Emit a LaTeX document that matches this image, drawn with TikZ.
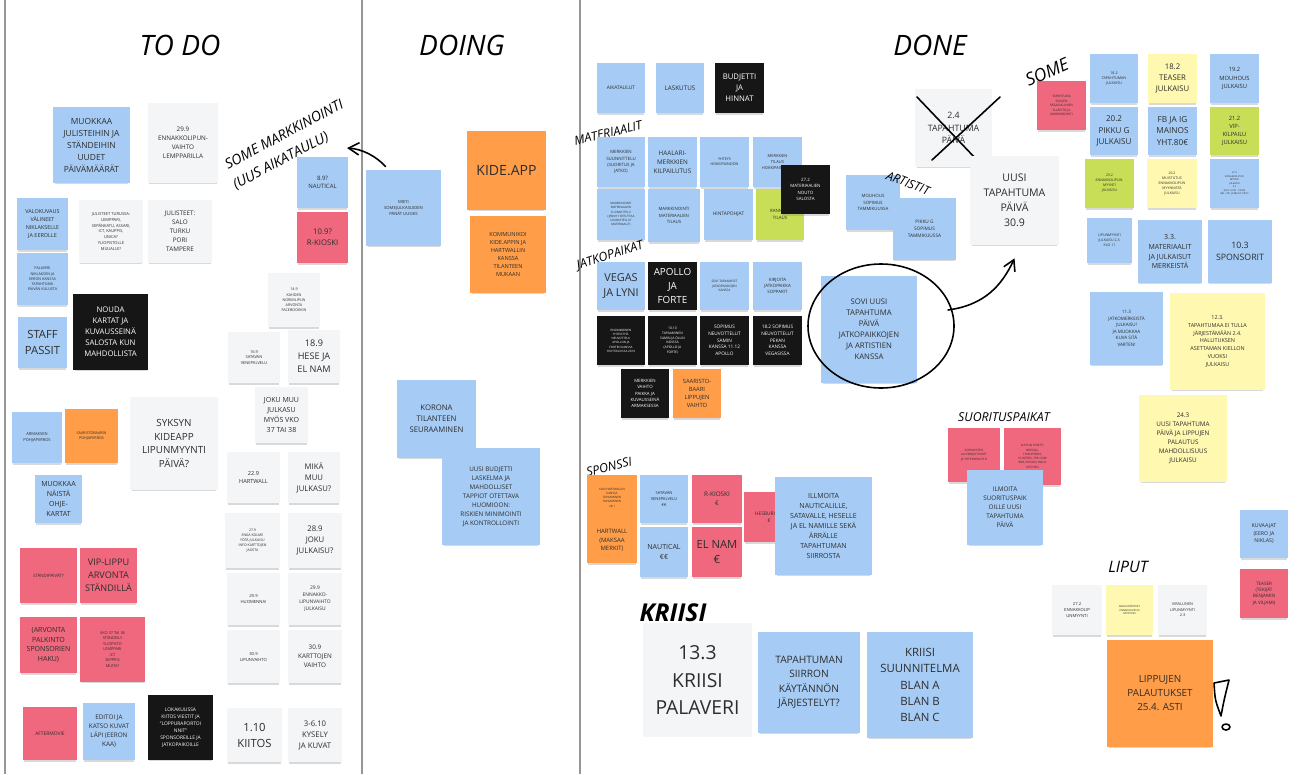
\documentclass[tikz,border=0pt]{standalone}
\usepackage{fontspec}
\setmainfont{Open Sans}
\usetikzlibrary{arrows.meta,shadows}
\definecolor{blu}{RGB}{166,204,245}
\definecolor{wht}{RGB}{244,245,247}
\definecolor{org}{RGB}{255,157,72}
\definecolor{pnk}{RGB}{240,104,126}
\definecolor{blk}{RGB}{22,22,22}
\definecolor{yel}{RGB}{255,248,176}
\definecolor{lim}{RGB}{200,222,86}
\definecolor{ink}{RGB}{45,45,45}
\definecolor{laneg}{RGB}{150,150,150}
\newcommand\fs[1]{\fontsize{#1}{\fpeval{1.42*#1}pt}\selectfont}
\tikzset{
  fs/.style={font=\fs{#1}},
  note/.style={fill=#1, text=ink, align=center, inner sep=0.5pt,
    drop shadow={shadow xshift=0pt, shadow yshift=-1.6pt, shadow scale=0.96, opacity=0.3}},
  dark/.style={note=blk, text=white},
  sz/.style 2 args={minimum width=#1*0.02cm, minimum height=#2*0.02cm},
  hand/.style={font=\itshape\fs{#1}, text=black, inner sep=0pt},
  pen/.style={line width=0.9pt, line cap=round, line join=round},
  penarrow/.style={pen, -{Straight Barb[length=6pt, width=7pt]}},
  lane/.style={draw=laneg, line width=1pt}
}

\begin{document}
\begin{tikzpicture}[x=0.02cm, y=-0.02cm]
		\useasboundingbox (0,0) rectangle (1297,774);
		
		%%%%% LANES %%%%%
		\draw[lane] (5,0) -- (5,774);
		\draw[lane] (362,0) -- (362,774);
		\draw[lane] (580,0) -- (580,774);
		
		\node[hand=16] (todo) at (180,45) {TO DO};
		\node[hand=16] (doing) at (462,45) {DOING};
		\node[hand=16] (done) at (930,45) {DONE};
		
		%%%%% TO DO %%%%%
		\node[note=blu, sz={77}{76}, fs=4.8] (muok) at (91.5,145) {MUOKKAA\\JULISTEIHIN JA\\STÄNDEIHIN\\UUDET\\PÄIVÄMÄÄRÄT};
		\node[note=wht, sz={70}{80}, fs=3.6] (ennak) at (183,143) {29.9\\ENNAKKOLIPUN-\\VAIHTO\\LEMPPARILLA};
		\node[note=blu, sz={51}{52}, fs=3.1] (valo) at (42.5,224) {VALOKUVAUS\\VÄLINEET\\NIKLAKSELLE\\JA EEROLLE};
		\node[note=wht, sz={64}{63}, fs=2.3] (jult) at (111,231.5) {JULISTEET TURUSSA:\\LEMPPARI,\\SEPÄNKATU, ASSARI,\\ICT, KAUPPIS,\\UNICA?\\YLIOPISTOLLE\\MUUALLE?};
		\node[note=wht, sz={64}{63}, fs=3.6] (juls) at (180,231.5) {JULISTEET:\\SALO\\TURKU\\PORI\\TAMPERE};
		\node[note=blu, sz={51}{52}, fs=2.1] (pala) at (42.5,279) {PALAVERI\\NIKLAKSEN JA\\EERON KANSSA\\TAPAHTUMA\\PÄIVÄN KULUSTA};
		\node[dark, sz={75}{76}, fs=4.4] (nouda) at (110.5,332) {NOUDA\\KARTAT JA\\KUVAUSSEINÄ\\SALOSTA KUN\\MAHDOLLISTA};
		\node[note=blu, sz={49}{51}, fs=6.4] (staff) at (42.5,342.5) {STAFF\\PASSIT};
		\node[note=blu, sz={50}{51}, fs=2.3] (armak) at (37,437.5) {ARMAKSEN\\POHJAPIIRROS};
		\node[note=org, sz={53}{54}, fs=2.1] (saari) at (91.5,436) {SAARISTOBAARIN\\POHJAPIIRROS};
		\node[note=wht, sz={88}{93}, fs=5.6] (syksy) at (174,443.5) {SYKSYN\\KIDEAPP\\LIPUNMYYNTI\\PÄIVÄ?};
		\node[note=blu, sz={47}{48}, fs=4] (ohje) at (58.5,499) {MUOKKAA\\NÄISTÄ\\OHJE-\\KARTAT};
		\node[note=pnk, sz={57}{55}, fs=2.5] (standi) at (48.5,575.5) {STÄNDIPÄIVÄT?};
		\node[note=pnk, sz={57}{55}, fs=5.2] (vip) at (108.5,575.5) {VIP-LIPPU\\ARVONTA\\STÄNDILLÄ};
		\node[note=pnk, sz={57}{56}, fs=4] (arvo) at (48.5,645) {(ARVONTA\\PALKINTO\\SPONSORIEN\\HAKU)};
		\node[note=pnk, sz={65}{65}, fs=2.2] (vko) at (112.5,649.5) {VKO 37 TAI 38\\STÄNDEILY\\YLIOPISTO\\LEMPPARI\\ICT\\SEPPPIS\\MUITA?};
		\node[note=pnk, sz={54}{53}, fs=2.8] (after) at (50,733.5) {AFTERMOVIE};
		\node[note=blu, sz={52}{57}, fs=3.6] (editoi) at (109,731.5) {EDITOI JA\\KATSO KUVAT\\LÄPI (EERON\\KAA)};
		\node[dark, sz={65}{65}, fs=2.8] (loka) at (180.5,727.5) {LOKAKUUSSA\\KIITOS VIESTIT JA\\"LOPPURAPORTOI\\NNIT"\\SPONSOREILLE JA\\JATKOPAIKOILLE};
		
		\node[note=blu, sz={51}{51}, fs=3.4] (naut9) at (322.5,182.5) {8.9?\\NAUTICAL};
		\node[note=pnk, sz={51}{51}, fs=4.4] (rk10) at (322.5,237.5) {10.9?\\R-KIOSKI};
		\node[hand=8, rotate=28] (somem) at (284,134) {SOME MARKKINOINTI};
		\node[hand=8, rotate=28] (uusaika) at (281,161) {(UUS AIKATAULU)};
		\node[note=wht, sz={52}{54}, fs=2.1] (kahden) at (294,300) {14.9\\KAHDEN\\NORMILIPUN\\ARVONTA\\FACEBOOKKIN};
		\node[note=wht, sz={52}{51}, fs=2.3] (satava) at (254,357.5) {16.9\\SATAVAN\\VENEPALVELU};
		\node[note=wht, sz={52}{53}, fs=5.2] (hese) at (314,356.5) {18.9\\HESE JA\\EL NAM};
		\node[note=wht, sz={53}{56}, fs=4] (jokumuu) at (281.5,415) {JOKU MUU\\JULKASU\\MYÖS VKO\\37 TAI 38};
		\node[note=wht, sz={53}{51}, fs=3.2] (hart22) at (253.5,477.5) {22.9\\HARTWALL};
		\node[note=wht, sz={52}{51}, fs=4.4] (mika) at (314,477.5) {MIKÄ\\MUU\\JULKASU?};
		\node[note=wht, sz={55}{55}, fs=2] (enaa) at (252.5,540.5) {27.9\\ENÄÄ KOLME\\YÖTÄ JULKAISU\\INFO KARTTOJEN\\JAOSTA};
		\node[note=wht, sz={54}{55}, fs=4.4] (joku28) at (315,540.5) {28.9\\JOKU\\JULKAISU?};
		\node[note=wht, sz={53}{52}, fs=2.4] (huom) at (253.5,599) {29.9\\HUOMENNA!};
		\node[note=wht, sz={54}{52}, fs=2.8] (ennjulk) at (315,599) {29.9\\ENNAKKO-\\LIPUNVAIHTO\\JULKAISU};
		\node[note=wht, sz={53}{53}, fs=2.4] (lipv) at (253.5,656.5) {30.9\\LIPUNVAIHTO};
		\node[note=wht, sz={54}{53}, fs=3.6] (kartv) at (315,656.5) {30.9\\KARTTOJEN\\VAIHTO};
		\node[note=wht, sz={55}{54}, fs=6.4] (kiitos) at (254.5,735) {1.10\\KIITOS};
		\node[note=wht, sz={54}{54}, fs=4.4] (kysely) at (315,735) {3-6.10\\KYSELY\\JA KUVAT};
		
		%%%%% DOING %%%%%
		\node[note=blu, sz={75}{76}, fs=2.4] (mieti) at (403.5,208) {MIETI\\SOMEJULKASUIDEN\\PÄNÄT UUSIKS};
		\node[note=org, sz={79}{79}, fs=8] (kide) at (506.5,170.5) {KIDE.APP};
		\node[note=org, sz={76}{77}, fs=3.2] (komm) at (508,254.5) {KOMMUNIKOI\\KIDE.APPIN JA\\HARTWALLIN\\KANSSA\\TILANTEEN\\MUKAAN};
		\node[note=blu, sz={79}{78}, fs=4.4] (korona) at (436.5,419) {KORONA\\TILANTEEN\\SEURAAMINEN};
		\node[note=blu, sz={98}{97}, fs=3.6] (budj) at (491,496.5) {UUSI BUDJETTI\\LASKELMA JA\\MAHDOLLISET\\TAPPIOT OTETTAVA\\HUOMIOON:\\RISKIEN MINIMOINTI\\JA KONTROLLOINTI};
		\coordinate (sometip) at (347,148);
		\draw[penarrow] ([shift={(20,-3)}]mieti.north west) .. controls (376,156) and (362,149) .. (sometip);
		
		%%%%% DONE %%%%%
		\node[note=blu, sz={48}{50}, fs=2.8] (aika) at (621,88) {AIKATAULUT};
		\node[note=blu, sz={48}{50}, fs=3.6] (lasku) at (680,88) {LASKUTUS};
		\node[dark, sz={49}{50}, fs=4.4] (budjh) at (739.5,88) {BUDJETTI\\JA\\HINNAT};
		\node[hand=7, rotate=13] (mater) at (608,133) {MATERIAALIT};
		\node[note=blu, sz={48}{50}, fs=2.5] (msuun) at (621,162) {MERKKIEN\\SUUNNITTELU\\(SUORITUS JA\\JATKO)};
		\node[note=blu, sz={49}{50}, fs=3.6] (haal) at (672.5,162) {HAALARI-\\MERKKIEN\\KILPAILUTUS};
		\node[note=blu, sz={49}{50}, fs=2.1] (yhteys) at (724.5,162) {YHTEYS\\HOKKIPAINOON};
		\node[note=blu, sz={49}{50}, fs=2.3] (mtilaus) at (777.5,162) {MERKKIEN\\TILAUS\\HOKKIPAINOSTA};
		\node[note=blu, sz={48}{51}, fs=1.7] (marks) at (621,214.5) {MARKKINOINTI\\MATERIAALIEN\\SUUNNITTELU\\(JENNY TOTEUTTAA\\SUUNNITELLUT\\MATERIAALIT)};
		\node[note=blu, sz={52}{53}, fs=2.5] (markt) at (674,215.5) {MARKKINOINTI\\MATERIAALIEN\\TILAUS};
		\node[note=blu, sz={49}{51}, fs=2.8] (hinta) at (728.5,214.5) {HINTAPOHJAT};
		\node[note=lim, sz={48}{51}, fs=2.5] (ranne) at (780,214.5) {RANNEKE\\TILAUS};
		\node[dark, sz={49}{49}, fs=2.5] (nouto) at (805.5,189.5) {27.2\\MATERIAALIEN\\NOUTO\\SALOSTA};
		
		\node[hand=7, rotate=18] (jatko) at (610,256) {JATKOPAIKAT};
		\node[note=blu, sz={48}{48}, fs=6.2] (vegas) at (621,286) {VEGAS\\JA LYNI};
		\node[dark, sz={49}{48}, fs=5.6] (apollo) at (672.5,286) {APOLLO\\JA\\FORTE};
		\node[note=blu, sz={49}{48}, fs=1.8] (sovitap) at (724.5,286) {SOVI TAPAAMISET\\JATKOPAIKKOJEN\\KANSSA};
		\node[note=blu, sz={49}{48}, fs=2.5] (kirj) at (777.5,286) {KIRJOITA\\JATKOPAIKKA\\SOPPARIT};
		\node[dark, sz={48}{49}, fs=1.7] (ensi) at (621,340.5) {ENSIMMÄINEN\\YHTEISTYÖ-\\NEUVOTTELU\\APOLLON JA\\FORTEN KANSSA\\HUHTIKUUSSA 2019};
		\node[dark, sz={49}{49}, fs=1.9] (tapaam) at (672.5,340.5) {10.10\\TAPAAMINEN\\SAMIN JA OLLIN\\KANSSA\\(APOLLO JA\\FORTE)};
		\node[dark, sz={49}{49}, fs=2.7] (sopa1) at (724.5,340.5) {SOPIMUS\\NEUVOTTELUT\\SAMIN\\KANSSA 11.12\\APOLLO};
		\node[dark, sz={49}{49}, fs=2.7] (sopa2) at (777.5,340.5) {18.2 SOPIMUS\\NEUVOTTELUT\\PEKAN\\KANSSA\\VEGASISSA};
		\node[dark, sz={48}{49}, fs=2.5] (mvaihto) at (645,393.5) {MERKKIEN\\VAIHTO\\PAIKKA JA\\KUVAUSSEINÄ\\ARMAKSESSA};
		\node[note=org, sz={48}{49}, fs=3.3] (sbaari) at (697,393.5) {SAARISTO-\\BAARI\\LIPPUJEN\\VAIHTO};
		
		\node[hand=7, rotate=14] (sponssi) at (609,467) {SPONSSI};
		\node[note=org, sz={50}{46}, fs=1.7] (sovih) at (612,497.5) {SOVI HARTWALLIN\\KANSSA\\TAPAAMINEN\\TAPAAMINEN\\28.1};
		\node[note=org, sz={50}{45}, fs=3.4] (hartw) at (612,540.5) {HARTWALL\\(MAKSAA\\MERKIT)};
		\node[note=blu, sz={48}{48}, fs=2.3] (satv) at (664,499) {SATAVAN\\VENEPALVELU\\€€};
		\node[note=blu, sz={48}{50}, fs=4] (naut) at (664,552) {NAUTICAL\\€€};
		\node[note=pnk, sz={50}{48}, fs=3.6] (rkio) at (717,499) {R-KIOSKI\\€};
		\node[note=pnk, sz={50}{50}, fs=6.4] (elnam) at (717,552) {EL NAM\\€};
		\node[note=pnk, sz={50}{50}, fs=2.8] (hesb) at (769,517) {HESBURGER\\€};
		\node[note=blu, sz={97}{98}, fs=4] (ilmo) at (823.5,526) {ILLMOITA\\NAUTICALILLE,\\SATAVALLE, HESELLE\\JA EL NAMILLE SEKÄ\\ÄRRÄLLE\\TAPAHTUMAN\\SIIRROSTA};
		
		\node[hand=14, font=\bfseries\itshape\fs{14}] (kriisi) at (673,613) {KRIISI};
		\node[note=wht, sz={109}{114}, fs=11] (kpal) at (697.5,680) {13.3\\KRIISI\\PALAVERI};
		\node[note=blu, sz={102}{101}, fs=5.8] (tsiir) at (809,682.5) {TAPAHTUMAN\\SIIRRON\\KÄYTÄNNÖN\\JÄRJESTELYT?};
		\node[note=blu, sz={106}{106}, fs=6.5] (ksuun) at (920,685) {KRIISI\\SUUNNITELMA\\BLAN A\\BLAN B\\BLAN C};
		
		\node[note=wht, sz={77}{78}, fs=5] (vanha) at (953.5,128) {2.4\\TAPAHTUMA\\PÄIVÄ};
		\draw[pen] (917,97) -- (977,160);
		\draw[pen] (932,160) -- (1000,97);
		\node[note=pnk, sz={49}{49}, fs=1.8] (tsivu) at (1061.5,105.5) {TAPAHTUMA\\SIVUJEN\\PÄÄASIALLINEN\\YLLÄPITO JA\\MARKKINOINTI};
		\node[hand=10, rotate=24] (some) at (1047,72) {SOME};
		\node[note=wht, sz={89}{89}, fs=6] (uusi) at (1014.5,200.5) {UUSI\\TAPAHTUMA\\PÄIVÄ\\30.9};
		\node[note=blu, sz={54}{55}, fs=2.5] (mouh) at (873,202.5) {MOUHOUS\\SOPIMUS\\TAMMIKUUSSA};
		\node[note=blu, sz={63}{62}, fs=2.7] (pikku) at (924.5,229) {PIKKU G\\SOPIMUS\\TAMMIKUUSSA};
		\node[hand=7, rotate=-21] (artistit) at (908,183) {ARTISTIT};
		\node[note=blu, sz={96}{107}, fs=4.4] (sovi) at (869,329.5) {SOVI UUSI\\TAPAHTUMA\\PÄIVÄ\\JATKOPAIKKOJEN\\JA ARTISTIEN\\KANSSA};
		\coordinate (ring) at (881,326);
		\draw[pen] (ring) ellipse [x radius=73, y radius=62];
		\draw[penarrow] ([shift={(67,-16)}]ring) .. controls (985,305) and (1002,285) .. ([yshift=-0.26cm]uusi.south);
		
		\node[note=blu, sz={48}{49}, fs=2.1] (j182) at (1114,78.5) {18.2\\TAPAHTUMAN\\JULKAISU};
		\node[note=yel, sz={49}{49}, fs=4.4] (teas) at (1172.5,78.5) {18.2\\TEASER\\JULKAISU};
		\node[note=blu, sz={49}{49}, fs=3.3] (mouj) at (1234.5,78.5) {19.2\\MOUHOUS\\JULKAISU};
		\node[note=blu, sz={48}{48}, fs=4.6] (pikj) at (1114,131) {20.2\\PIKKU G\\JULKAISU};
		\node[note=blu, sz={49}{48}, fs=4.7] (fbig) at (1172.5,131) {FB JA IG\\MAINOS\\YHT.80€};
		\node[note=lim, sz={49}{48}, fs=3.3] (vipk) at (1234.5,131) {21.2\\VIP-\\KILPAILU\\JULKAISU};
		\node[note=lim, sz={49}{49}, fs=2] (e252) at (1109.5,183.5) {25.2\\ENNAKKOLIPUN-\\MYYNTI\\JULKAISU};
		\node[note=yel, sz={50}{49}, fs=2] (m262) at (1172,183.5) {26.2\\MUISTUTUS\\ENNAKKOLIPUN\\MYYNNISTÄ\\JULKAISU};
		\node[note=blu, sz={49}{49}, fs=1.4] (e272) at (1234.5,183.5) {27.2\\ENNAKKOLIPUN\\MYYNTI\\JULKAISU\\2.2\\(KLO 12.00 - 18.00)\\ABI-, VIP- JA MUUT LIPUT};
		\node[note=blu, sz={45}{45}, fs=2] (lipj) at (1109.5,240.5) {LIPUNMYYNTI\\JULKAISU 2.3.\\KLO 11};
		\node[note=blu, sz={64}{63}, fs=4] (mat33) at (1170,251.5) {3.3.\\MATERIAALIT\\JA JULKAISUT\\MERKEISTÄ};
		\node[note=blu, sz={64}{63}, fs=5] (spons) at (1240,251.5) {10.3\\SPONSORIT};
		\node[note=blu, sz={73}{73}, fs=2.6] (jatkm) at (1126.5,328.5) {11.3\\JATKOMERKEISTÄ\\JULKAISU!\\JA MUOKKAA\\KUVA SITÄ\\VARTEN!};
		\node[note=yel, sz={95}{97}, fs=3.1] (t123) at (1217.5,341.5) {12.3.\\TAPAHTUMAA EI TULLA\\JÄRJESTÄMÄÄN 2.4.\\HALLITUKSEN\\ASETTAMAN KIELLON\\VUOKSI\\JULKAISU};
		\node[note=yel, sz={88}{87}, fs=3.6] (u243) at (1183,438.5) {24.3\\UUSI TAPAHTUMA\\PÄIVÄ JA LIPPUJEN\\PALAUTUS\\MAHDOLLISUUS\\JULKAISU};
		
		\node[hand=7] (suor) at (1004,417) {SUORITUSPAIKAT};
		\node[note=pnk, sz={52}{54}, fs=1.7] (sopall) at (974,455) {SOPIMUSTEN\\ALLEKIRJOITUKSET\\JA YHTEYDENOTTO};
		\node[note=pnk, sz={57}{57}, fs=1.7] (alepub) at (1032.5,456.5) {ALEPUB, FONTTI,\\BRYGGA,\\TINSLEHEIDS,\\HUNTERS, THE COW\\BAR, EDISON, WALO\\KITCHEN};
		\node[note=blu, sz={76}{75}, fs=3.6] (ilsuo) at (1005,507.5) {ILMOITA\\SUORITUSPAIK\\OILLE UUSI\\TAPAHTUMA\\PÄIVÄ};
		
		\node[hand=9] (liput) at (1128,567) {LIPUT};
		\node[note=wht, sz={50}{50}, fs=2.4] (ennlip) at (1077,610) {27.2\\ENNAKKOLIP\\UNMYYNTI};
		\node[note=yel, sz={47}{50}, fs=1.5] (maksu) at (1129.5,610) {MAKSUPÄÄTTEET\\ENNAKKOLIPUN\\MYYNTIIN};
		\node[note=wht, sz={49}{50}, fs=2.2] (viral) at (1182.5,610) {VIRALLINEN\\LIPUNMYYNTI\\2.3};
		\node[note=org, sz={106}{107}, fs=5.6] (palau) at (1160,693.5) {LIPPUJEN\\PALAUTUKSET\\25.4. ASTI};
		\draw[pen] (1214,683) .. controls (1215,700) .. (1221,716) .. controls (1224,700) .. (1229,680) -- (1214,683);
		\draw[pen] (1226,727) ellipse [x radius=4, y radius=3];
		\node[note=blu, sz={48}{48}, fs=3] (kuvaajat) at (1264,534) {KUVAAJAT\\(EERO JA\\NIKLAS)};
		\node[note=pnk, sz={48}{49}, fs=2.6] (teaser) at (1264,593.5) {TEASER\\(TEKIJÄT\\BENJAMIN\\JA VILJAMI)};
		
\end{tikzpicture}
\end{document}
